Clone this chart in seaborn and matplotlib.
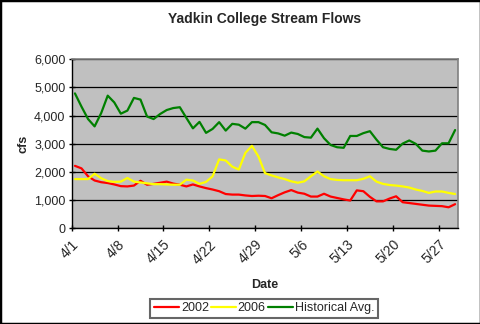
import numpy as np
import pandas as pd
import matplotlib
matplotlib.use("Agg")
import matplotlib.pyplot as plt
import matplotlib.dates as mdates
import matplotlib.transforms as mtransforms
from matplotlib.patches import Rectangle
import seaborn as sns

# Daily flows (cfs), April 1 - May 29
dates = pd.date_range("2006-04-01", periods=59, freq="D")

flow_2002 = [2220, 2130, 1850, 1700, 1640, 1610, 1560, 1500, 1490, 1520,
             1690, 1550, 1580, 1620, 1660, 1590, 1550, 1490, 1560, 1490,
             1430, 1380, 1320, 1220, 1200, 1200, 1170, 1150, 1160, 1150,
             1070, 1180, 1280, 1360, 1270, 1230, 1130, 1130, 1230, 1130,
             1080, 1030, 990, 1350, 1320, 1120, 960, 960, 1060, 1140,
             930, 900, 870, 840, 810, 800, 790, 750, 860]

flow_2006 = [1750, 1750, 1750, 1940, 1780, 1680, 1650, 1660, 1790, 1660,
             1630, 1600, 1570, 1570, 1560, 1550, 1550, 1730, 1700, 1580,
             1650, 1850, 2450, 2410, 2190, 2090, 2680, 2930, 2550, 1960,
             1880, 1810, 1750, 1670, 1620, 1670, 1850, 2020, 1850, 1750,
             1720, 1710, 1710, 1710, 1760, 1850, 1660, 1580, 1540, 1520,
             1490, 1450, 1380, 1330, 1260, 1310, 1310, 1260, 1220]

flow_hist = [4790, 4320, 3880, 3620, 4090, 4710, 4470, 4070, 4180, 4630,
             4570, 3970, 3880, 4060, 4200, 4270, 4300, 3920, 3550, 3780,
             3390, 3530, 3770, 3470, 3710, 3680, 3540, 3770, 3770, 3670,
             3410, 3370, 3290, 3400, 3350, 3240, 3220, 3540, 3200, 2960,
             2880, 2860, 3280, 3280, 3380, 3450, 3150, 2880, 2820, 2790,
             3010, 3120, 3000, 2760, 2730, 2760, 3020, 3020, 3490]

series_names = ["2002", "2006", "Historical Avg."]
series_colors = ["#FF0000", "#FFFF00", "#008000"]
y_ticks = [0, 1000, 2000, 3000, 4000, 5000, 6000]

# each day's value sits in the middle of its day slot
mid_day = dates + pd.Timedelta(hours=12)
df = pd.concat([
    pd.DataFrame({"Date": mid_day, "cfs": vals, "Series": name})
    for name, vals in zip(series_names, [flow_2002, flow_2006, flow_hist])
])

sns.set_style("white")
plt.rcParams["font.family"] = ["Liberation Sans", "DejaVu Sans"]

fig = plt.figure(figsize=(4.81, 3.24), dpi=100)
ax = fig.add_axes([0.149, 0.295, 0.804, 0.522])
ax.set_facecolor("#C0C0C0")

sns.lineplot(data=df, x="Date", y="cfs", hue="Series", hue_order=series_names,
             palette=series_colors, linewidth=1.6, ax=ax, legend=True)

ax.set_ylim(0, 6000)
ax.set_yticks(y_ticks)
ax.set_yticklabels([f"{v:,}" for v in y_ticks], fontsize=9)
ax.yaxis.grid(True, color="black", linewidth=0.9)
ax.set_axisbelow(True)

ax.set_xlim(dates[0], dates[-1] + pd.Timedelta(days=1))
ax.set_xticks(dates[::7])
ax.xaxis.set_major_formatter(
    matplotlib.ticker.FuncFormatter(lambda v, p: f"{mdates.num2date(v).month}/{mdates.num2date(v).day}"))
shift = mtransforms.ScaledTranslation(4 / 100, 0, fig.dpi_scale_trans)
for lbl in ax.get_xticklabels():
    lbl.set_rotation(45)
    lbl.set_ha("right")
    lbl.set_va("top")
    lbl.set_fontsize(10)
    lbl.set_rotation_mode("anchor")
    lbl.set_transform(lbl.get_transform() + shift)

ax.tick_params(axis="both", which="major", direction="inout", length=5,
               width=1, color="black", pad=2, left=True, bottom=True)
ax.tick_params(axis="x", pad=4)

for side in ["left", "bottom"]:
    ax.spines[side].set_color("black")
    ax.spines[side].set_linewidth(1)
for side in ["top", "right"]:
    ax.spines[side].set_color("#808080")
    ax.spines[side].set_linewidth(1.2)

ax.set_title("Yadkin College Stream Flows", fontsize=10, fontweight="bold", pad=26)
ax.set_xlabel("Date", fontsize=9, fontweight="bold", labelpad=9)
ax.set_ylabel("cfs", fontsize=9, fontweight="bold", labelpad=3)

handles, labels = ax.get_legend_handles_labels()
ax.get_legend().remove()
leg = fig.legend(handles, labels, loc="center", bbox_to_anchor=(0.549, 0.048),
                 ncol=3, fontsize=9, frameon=True, fancybox=False,
                 handlelength=2.0, handletextpad=0.15, columnspacing=0.15,
                 borderpad=0.3, borderaxespad=0)
leg.get_frame().set_edgecolor("#404040")
leg.get_frame().set_linewidth(1.5)

fig.patches.append(Rectangle((0, 0), 1, 1, transform=fig.transFigure,
                             fill=False, edgecolor="black", linewidth=2.5))

fig.savefig("out.png", dpi=100)
